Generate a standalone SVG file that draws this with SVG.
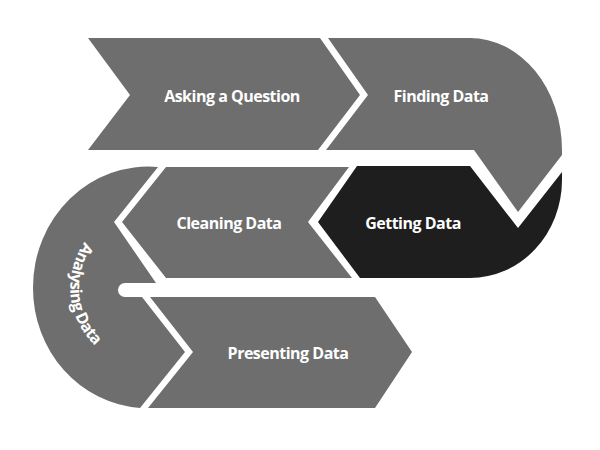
<svg xmlns="http://www.w3.org/2000/svg" width="600" height="450" viewBox="0 0 600 450">
<style>
.g{fill:#6e6e6e}.d{fill:#1e1e1e}
text{font-family:"Open Sans","Liberation Sans",sans-serif;font-weight:bold;font-size:16px;fill:#fff;letter-spacing:-0.5px}
</style>
<defs><path id="arc" d="M84.5,242 A80,80 0 0 0 190,357"/></defs>
<rect width="600" height="450" fill="#fff"/>
<g id="asking"><path class="g" d="M88,38 L320,38 L360,95 L318,150 L88,150 L130,95 Z"/><text x="232" y="102" text-anchor="middle">Asking a Question</text></g>
<g id="finding"><path class="g" d="M328,38 L470,38 A92,112 0 0 1 562,150 L562,155 L518,212 L474,150 L326,150 L368,95 Z"/><text x="441" y="102" text-anchor="middle">Finding Data</text></g>
<g id="getting"><path class="d" d="M357,166 L470,166 L518,228 L562,172 L562,180 A92,98 0 0 1 470,278 L360,278 L318,222 Z"/><text x="413" y="229" text-anchor="middle">Getting Data</text></g>
<g id="cleaning"><path class="g" d="M166,167 L349,167 L308,222 L352,278 L166,278 L122,222 Z"/><text x="229" y="229" text-anchor="middle">Cleaning Data</text></g>
<g id="analysing"><path class="g" d="M158,167 L114,222 L156,283 L125,283 A7,7 0 0 0 125,297 L142,297 L185,352 L140,408 A115,120 0 0 1 33,288 A115,121 0 0 1 158,167 Z"/><text><textPath href="#arc">Analysing Data</textPath></text></g>
<g id="presenting"><path class="g" d="M150,297 L375,297 L412,352 L375,408 L148,408 L193,352 Z"/><text x="288" y="359" text-anchor="middle">Presenting Data</text></g>
<g id="connectors"></g>
</svg>
